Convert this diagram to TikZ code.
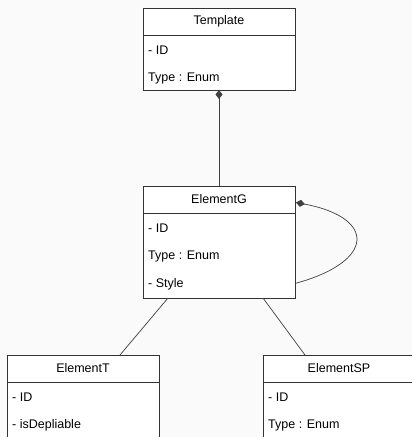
\documentclass[tikz,border=0pt]{standalone}
\usepackage{fontspec}
\setmainfont{Liberation Sans}
\usetikzlibrary{arrows.meta, positioning, calc}

\begin{document}
\begin{tikzpicture}[x=1pt, y=-1pt,
            % Style for the class name boxes
            head/.style={draw=black!80, fill=white, line width=0.8pt, outer sep=0pt, minimum width=152pt, minimum height=27pt, anchor=north, inner sep=0pt, font=\fontsize{12.5}{14}\selectfont},
            % Style for the attribute boxes below the names
            body/.style={draw=black!80, fill=white, line width=0.8pt, outer sep=0pt, minimum width=152pt, inner sep=0pt},
            % Style for the attribute texts
            attr/.style={anchor=west, inner sep=0pt, font=\fontsize{12.5}{14}\selectfont},
            % Style for the connectors
            link/.style={draw=black!75, line width=0.7pt},
            comp/.style={link, {Diamond[length=9pt, width=7pt]}-}
        ]

        % --- Page and background ---
        \useasboundingbox[fill=black!2] (0,0) rectangle (412,437);

        % --- Template ---
        \node[head] (template) at (219,8) {Template};
        \node[body, minimum height=55pt, below=0pt of template] (template-body) {};
        \foreach \txt [count=\i] in {- ID, Type : Enum} {
            \node[attr] at ([xshift=5pt, yshift=-28*\i+13pt]template-body.north west) {\txt};
        }

        % --- ElementG ---
        \node[head] (elementg) at (219,186) {ElementG};
        \node[body, minimum height=85pt, below=0pt of elementg] (elementg-body) {};
        \foreach \txt [count=\i] in {- ID, Type : Enum, - Style} {
            \node[attr] at ([xshift=5pt, yshift=-28*\i+12.5pt]elementg-body.north west) {\txt};
        }

        % --- ElementT ---
        \node[head] (elementt) at (83,355) {ElementT};
        \node[body, minimum height=70pt, below=0pt of elementt] (elementt-body) {};
        \foreach \txt [count=\i] in {- ID, - isDepliable} {
            \node[attr] at ([xshift=5pt, yshift=-28*\i+12.5pt]elementt-body.north west) {\txt};
        }

        % --- ElementSP ---
        \node[head] (elementsp) at (339,355) {ElementSP};
        \node[body, minimum height=70pt, below=0pt of elementsp] (elementsp-body) {};
        \foreach \txt [count=\i] in {- ID, Type : Enum} {
            \node[attr] at ([xshift=5pt, yshift=-28*\i+12.5pt]elementsp-body.north west) {\txt};
        }

        % --- Connectors ---
        \draw[comp] (template-body.south) -- (elementg.north);
        \draw[comp] ([xshift=1pt, yshift=-3pt]elementg.east) .. controls +(80,15) and +(81,-22) .. ([yshift=-28pt]elementg-body.east);
        \draw[link] ([xshift=25pt]elementg-body.south west) -- ([xshift=113pt]elementt.north west);
        \draw[link] ([xshift=120pt]elementg-body.south west) -- ([xshift=42pt]elementsp.north west);

        \end{tikzpicture}
\end{document}
